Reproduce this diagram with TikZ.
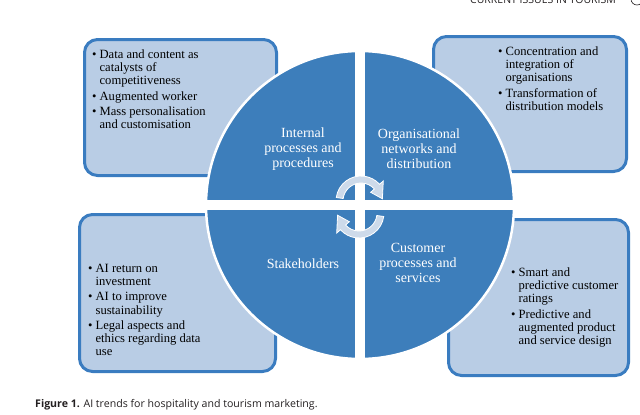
\documentclass[tikz,border=0pt]{standalone}
\usepackage{fontspec}
\setmainfont{Liberation Serif}
\newfontfamily\capfont{Open Sans}
\definecolor{boxblue}{RGB}{58,124,192}
\definecolor{boxfill}{RGB}{185,205,229}
\definecolor{circblue}{RGB}{61,126,187}
\definecolor{arrowfill}{RGB}{205,218,234}
\definecolor{captext}{RGB}{35,31,32}
\tikzset{
  box/.style={draw=boxblue, line width=3pt, fill=boxfill, rounded corners=13pt, inner sep=0pt},
  quad/.style={text=white, font=\fontsize{14}{15}\selectfont, align=center, inner sep=0pt},
  items/.style={anchor=north west, inner sep=0pt, font=\fontsize{12.6}{13.2}\selectfont},
  cyc/.style={fill=arrowfill, draw=white, line width=0.8pt},
}
\newcommand{\bl}{\textbullet}
\begin{document}
\begin{tikzpicture}[x=1pt,y=-1pt]
\useasboundingbox (0,0) rectangle (640,415);
% header
\node[anchor=base west, inner sep=0pt, font=\capfont\fontsize{10.5}{12}\selectfont, text=captext] (hdr) at (470,4) {CURRENT ISSUES IN TOURISM};
\draw[captext, line width=0.6pt] (637,-1) circle[radius=6];
% boxes
\node[box, minimum width=192pt, minimum height=136pt] (tl) at (180.5,107.5) {};
\node[box, minimum width=193pt, minimum height=135pt] (tr) at (530,104) {};
\node[box, minimum width=196pt, minimum height=157pt] (bl) at (177.5,293) {};
\node[box, minimum width=180pt, minimum height=156pt] (br) at (538.5,297.5) {};
% circle
\node[circle, fill=circblue, draw=white, line width=2.5pt, minimum size=308pt, inner sep=0pt] (c) at (360,205) {};
\fill[white] (355,49) rectangle (365,361);
\fill[white] (204,200) rectangle (516,210);
% quadrant labels
\node[quad] (q1) at (303,149) {Internal\\processes and\\procedures};
\node[quad] (q2) at (419,149) {Organisational\\networks and\\distribution};
\node[quad] (q3) at (303,264) {Stakeholders};
\node[quad] (q4) at (418,263) {Customer\\processes and\\services};
% cycle arrows
\begin{scope}[shift={(361,201)}, yscale=-1]
\draw[cyc] (172:25) arc[start angle=172, end angle=42, radius=25] -- (42:30) -- (6:21.5) -- (42:13) -- (42:18) arc[start angle=42, end angle=172, radius=18] -- cycle;
\end{scope}
\begin{scope}[shift={(359,213)}, yscale=-1]
\draw[cyc] (-8:25) arc[start angle=-8, end angle=-138, radius=25] -- (-138:30) -- (-174:21.5) -- (-138:13) -- (-138:18) arc[start angle=-138, end angle=-8, radius=18] -- cycle;
\end{scope}
% box texts
\node[items] (t1) at (92,49) {\begin{tabular}{@{}l@{\hspace{3pt}}l@{}}
\bl & Data and content as\\
 & catalysts of\\
 & competitiveness\\[2pt]
\bl & Augmented worker\\[2pt]
\bl & Mass personalisation\\
 & and customisation
\end{tabular}};
\node[items] (t2) at (498,46) {\begin{tabular}{@{}l@{\hspace{3pt}}l@{}}
\bl & Concentration and\\
 & integration of\\
 & organisations\\[2pt]
\bl & Transformation of\\
 & distribution models
\end{tabular}};
\node[items] (t3) at (88,263) {\begin{tabular}{@{}l@{\hspace{3pt}}l@{}}
\bl & AI return on\\
 & investment\\[2pt]
\bl & AI to improve\\
 & sustainability\\[2pt]
\bl & Legal aspects and\\
 & ethics regarding data\\
 & use
\end{tabular}};
\node[items] (t4) at (511,267) {\begin{tabular}{@{}l@{\hspace{3pt}}l@{}}
\bl & Smart and\\
 & predictive customer\\
 & ratings\\[2pt]
\bl & Predictive and\\
 & augmented product\\
 & and service design
\end{tabular}};
% caption
\node[anchor=base west, inner sep=0pt, text=captext, font=\capfont\fontsize{10.6}{12}\selectfont] (cap) at (35,407) {\textbf{Figure 1.} AI trends for hospitality and tourism marketing.};
\end{tikzpicture}
\end{document}
